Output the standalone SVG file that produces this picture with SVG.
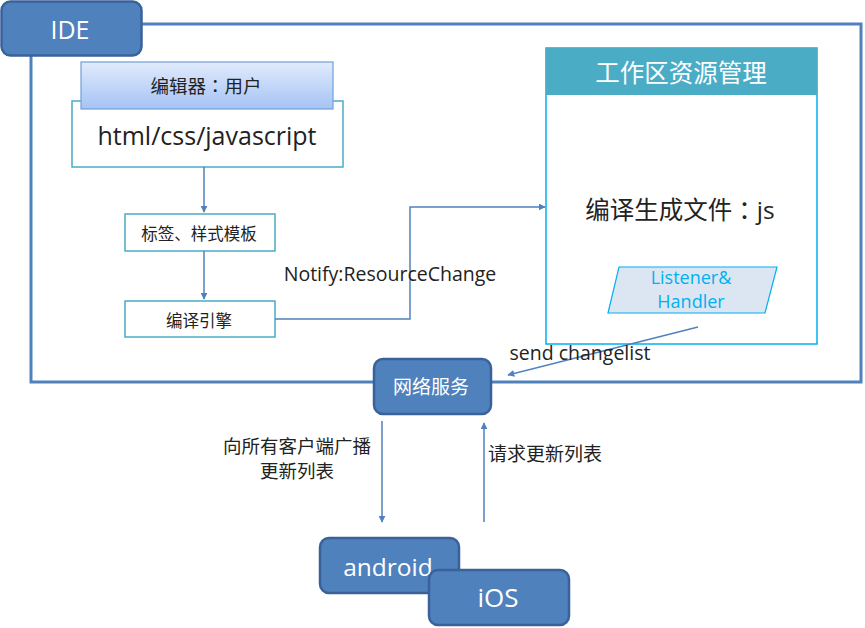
<svg xmlns="http://www.w3.org/2000/svg" width="865" height="628" viewBox="0 0 865 628">
<style>
text{font-family:"Open Sans","Noto Sans CJK SC",sans-serif;text-anchor:middle;dominant-baseline:central}
.colon{font-family:"Noto Sans CJK TC","Noto Sans CJK SC",sans-serif}
.dark{fill:#4F81BD;stroke:#3A629A;stroke-width:2.5}
.wt{fill:#fff}
.bk{fill:#222}
.box{fill:#fff;stroke:#4BACC6;stroke-width:1.5}
.conn{fill:none;stroke:#4F81BD;stroke-width:1.5}
</style>
<defs>
<linearGradient id="g1" x1="0" y1="0" x2="0" y2="1">
<stop offset="0" stop-color="#E1EBFC"/>
<stop offset="1" stop-color="#A5C3F5"/>
</linearGradient>
<marker id="ar" viewBox="0 0 10 10" refX="9" refY="5" markerWidth="7" markerHeight="7" orient="auto" markerUnits="userSpaceOnUse">
<path d="M0,0 L10,5 L0,10 z" fill="#4F81BD"/>
</marker>
</defs>
<rect width="865" height="628" fill="#fff"/>
<g id="frame">
<rect x="31" y="24" width="830" height="358" fill="none" stroke="#4F81BD" stroke-width="3"/>
</g>
<g id="ide">
<rect class="dark" x="1.5" y="1.5" width="140" height="54" rx="9"/>
<text class="wt" x="70" y="29" font-size="25">IDE</text>
</g>
<g id="html">
<rect class="box" x="72" y="101" width="271" height="66"/>
<text class="bk" x="207" y="135" font-size="25">html/css/javascript</text>
</g>
<g id="editor">
<rect x="81" y="62" width="252" height="47" fill="url(#g1)" stroke="#6FA0D8" stroke-width="1.2"/>
<text class="bk" x="206" y="85" font-size="18.5">编辑器<tspan class="colon">：</tspan>用户</text>
</g>
<g id="tags">
<rect class="box" x="125" y="214" width="150" height="37"/>
<text class="bk" x="199" y="233" font-size="16.5">标签、样式模板</text>
</g>
<g id="engine">
<rect class="box" x="125" y="301" width="150" height="36"/>
<text class="bk" x="199" y="320" font-size="16.5">编译引擎</text>
</g>
<g id="workspace">
<rect x="546" y="48" width="271" height="296" fill="#fff" stroke="#00B0F0" stroke-width="1.5"/>
<rect x="546" y="48" width="271" height="47" fill="#4BACC6"/>
<text class="wt" x="681" y="72" font-size="24.5">工作区资源管理</text>
<text class="bk" x="680" y="209" font-size="24.5">编译生成文件<tspan class="colon">：</tspan>js</text>
</g>
<g id="listener">
<polygon points="619,267 777,267 765,313 608,313" fill="#DCE6F2" stroke="#00B0F0" stroke-width="1.2"/>
<text x="691" y="277" font-size="18" fill="#00B0F0">Listener&amp;</text>
<text x="691" y="301" font-size="18" fill="#00B0F0">Handler</text>
</g>
<g id="network">
<rect class="dark" x="374" y="359" width="117" height="55" rx="9"/>
<text class="wt" x="431" y="387" font-size="19">网络服务</text>
</g>
<g id="android">
<rect class="dark" x="320" y="538" width="139" height="55" rx="9"/>
<text class="wt" x="388" y="566" font-size="24.5">android</text>
</g>
<g id="ios">
<rect class="dark" x="429" y="570" width="140" height="55" rx="9"/>
<text class="wt" x="498" y="597" font-size="26">iOS</text>
</g>
<g id="connectors">
<path class="conn" d="M204,167 V212" marker-end="url(#ar)"/>
<path class="conn" d="M204,251 V299" marker-end="url(#ar)"/>
<path class="conn" d="M275,319 H410 V207 H545" marker-end="url(#ar)"/>
<path class="conn" d="M698,327 L508,375" marker-end="url(#ar)"/>
<path class="conn" d="M382,421 V522" marker-end="url(#ar)"/>
<path class="conn" d="M484,522 V423" marker-end="url(#ar)"/>
</g>
<g id="labels">
<text class="bk" x="390" y="273" font-size="19.5">Notify:ResourceChange</text>
<text class="bk" x="580" y="352" font-size="19.5">send changelist</text>
<text class="bk" x="297" y="445" font-size="18.5">向所有客户端广播</text>
<text class="bk" x="297" y="470" font-size="18.5">更新列表</text>
<text class="bk" x="545" y="454" font-size="19">请求更新列表</text>
</g>
</svg>
